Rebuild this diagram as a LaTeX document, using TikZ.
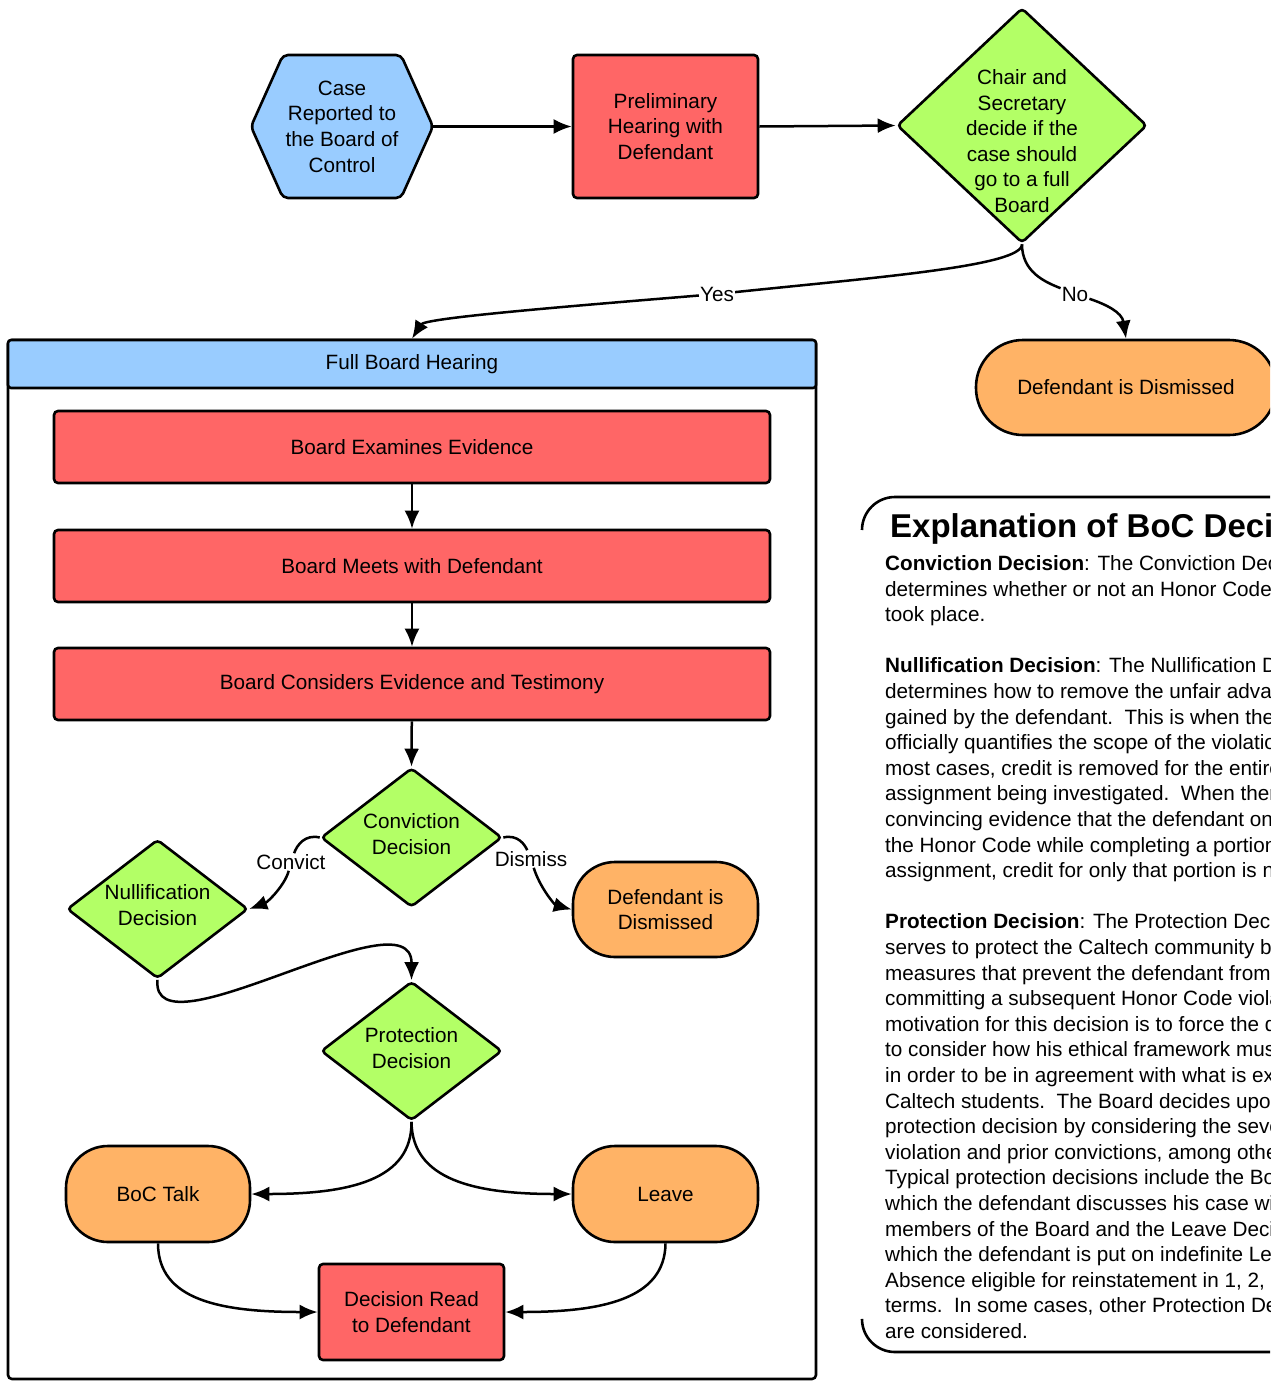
\documentclass[tikz,border=0pt]{standalone}
\usepackage{fontspec}
\setmainfont{Liberation Sans}
\usetikzlibrary{shapes.geometric,arrows.meta}
\definecolor{cblue}{HTML}{99CCFF}
\definecolor{cred}{HTML}{FF6666}
\definecolor{cgreen}{HTML}{B3FF66}
\definecolor{corange}{HTML}{FFB366}
\begin{document}
\begin{tikzpicture}[x=1pt,y=-1pt,
  every node/.style={font=\fontsize{20.7}{25.6}\selectfont, inner sep=0pt},
  box/.style={draw, line width=2.6pt, rounded corners=4pt, fill=cred, align=center},
  term/.style={draw, line width=2.6pt, fill=corange, align=center},
  dec/.style={draw, diamond, line width=2.6pt, fill=cgreen, rounded corners=4pt},
  txt/.style={align=center},
  conn/.style={line width=2.5pt, -{Latex[length=18pt,width=15pt]}},
  plain/.style={line width=2.5pt},
  lbl/.style={fill=white, inner sep=1pt},
  expl/.style={anchor=base west},
  bracket/.style={line width=2.6pt, rounded corners=33pt}]
\useasboundingbox (0,0) rectangle (1270,1382);
\clip (0,0) rectangle (1270,1382);

% top row
\draw[line width=2.6pt, fill=cblue, rounded corners=5pt, line join=round]
  (251,126.5) -- (283,55) -- (401,55) -- (433,126.5) -- (401,198) -- (283,198) -- cycle;
\node[txt, minimum width=182pt, minimum height=143pt] (case) at (342,126.5) {Case\\Reported to\\the Board of\\Control};
\node[box, minimum width=185pt, minimum height=143pt] (prel) at (665.5,126.5) {Preliminary\\Hearing with\\Defendant};
\node[dec, minimum width=250pt, minimum height=235pt] (chair) at (1022,125.5) {};
\node[txt] (chairtxt) at (1022,141) {Chair and\\Secretary\\decide if the\\case should\\go to a full\\Board};
\node[term, rounded corners=47pt, minimum width=300pt, minimum height=95pt] (dis1) at (1126,387.5) {Defendant is Dismissed};

% container
\draw[line width=2.6pt, rounded corners=4pt] (8,340) rectangle (816,1379);
\node[draw, line width=2.6pt, fill=cblue, rounded corners=3pt, minimum width=808pt, minimum height=48pt] (fbh) at (412,364) {Full Board Hearing};

\node[box, minimum width=716pt, minimum height=72pt] (exam) at (412,447) {Board Examines Evidence};
\node[box, minimum width=716pt, minimum height=72pt] (meet) at (412,566) {Board Meets with Defendant};
\node[box, minimum width=716pt, minimum height=72pt] (cons) at (412,684) {Board Considers Evidence and Testimony};

\node[dec, minimum width=181pt, minimum height=139pt] (conv) at (411.5,837.5) {};
\node[txt] (convtxt) at (411.5,834) {Conviction\\Decision};
\node[dec, minimum width=181pt, minimum height=139pt] (nul) at (157.5,909) {};
\node[txt] (nultxt) at (157.5,905) {Nullification\\Decision};
\node[dec, minimum width=181pt, minimum height=139pt] (prot) at (411.5,1051) {};
\node[txt] (prottxt) at (411.5,1048) {Protection\\Decision};
\node[term, rounded corners=42pt, minimum width=185pt, minimum height=95pt] (dis2) at (665.5,909.5) {Defendant is\\Dismissed};
\node[term, rounded corners=42pt, minimum width=184pt, minimum height=96pt] (boc) at (158,1194) {BoC Talk};
\node[term, rounded corners=42pt, minimum width=185pt, minimum height=96pt] (leave) at (665.5,1194) {Leave};
\node[box, minimum width=185pt, minimum height=96pt] (dread) at (411.5,1312) {Decision Read\\to Defendant};

% connectors
\draw[conn] (case.east) -- (prel.west);
\draw[conn] (prel.east) -- (chair.west);
\node[lbl] (yes) at (717,294) {Yes};
\draw[plain] (chair.south) .. controls (1022,266) and (880,277) .. (yes);
\draw[conn] (yes) .. controls (560,307) and (425,318) .. (fbh.north);
\node[lbl] (no) at (1075,294) {No};
\draw[plain] (chair.south) .. controls (1022,272) and (1045,282) .. (no);
\draw[conn] (no) .. controls (1105,304) and (1122,312) .. (dis1.north);
\draw[conn] (exam) -- (meet);
\draw[conn] (meet) -- (cons);
\draw[conn] (cons) -- (conv.north);
\node[lbl] (convict) at (291,862) {Convict};
\draw[plain] (conv.west) .. controls (305,834) and (297,845) .. (convict);
\draw[conn] (convict) .. controls (285,885) and (268,902) .. (nul.east);
\node[lbl] (dismiss) at (531,859) {Dismiss};
\draw[plain] (conv.east) .. controls (518,834) and (525,845) .. (dismiss);
\draw[conn] (dismiss) .. controls (540,888) and (555,905) .. (dis2.west);
\draw[conn] (nul.south) .. controls (150,1060) and (412,890) .. (prot.north);
\draw[conn] (prot.south) .. controls (412,1180) and (350,1194) .. (boc.east);
\draw[conn] (prot.south) .. controls (412,1180) and (475,1194) .. (leave.west);
\draw[conn] (boc.south) .. controls (158,1300) and (220,1312) .. (dread.west);
\draw[conn] (leave.south) .. controls (665,1300) and (600,1312) .. (dread.east);

% explanation
\draw[bracket] (862,530) |- (1300,497);
\draw[bracket] (862,1320) |- (1300,1352);
\node[expl, font=\fontsize{33}{38}\selectfont\bfseries] (etitle) at (890,537) {Explanation of BoC Decisions};
\node[expl] (e1) at (885,570) {\textbf{Conviction Decision}: The Conviction Decision};
\node[expl] (e2) at (885,596) {determines whether or not an Honor Code};
\node[expl] (e3) at (885,621) {took place.};
\node[expl] (e4) at (885,672) {\textbf{Nullification Decision}: The Nullification Decision};
\node[expl] (e5) at (885,698) {determines how to remove the unfair advantage};
\node[expl] (e6) at (885,724) {gained by the defendant.\ \ This is when the};
\node[expl] (e7) at (885,749) {officially quantifies the scope of the violation.};
\node[expl] (e8) at (885,775) {most cases, credit is removed for the entire};
\node[expl] (e9) at (885,800) {assignment being investigated.\ \ When there};
\node[expl] (e10) at (885,826) {convincing evidence that the defendant only};
\node[expl] (e11) at (885,852) {the Honor Code while completing a portion};
\node[expl] (e12) at (885,877) {assignment, credit for only that portion is nullified.};
\node[expl] (e13) at (885,928) {\textbf{Protection Decision}: The Protection Decision};
\node[expl] (e14) at (885,954) {serves to protect the Caltech community by};
\node[expl] (e15) at (885,980) {measures that prevent the defendant from};
\node[expl] (e16) at (885,1005) {committing a subsequent Honor Code violation.};
\node[expl] (e17) at (885,1031) {motivation for this decision is to force the defendant};
\node[expl] (e18) at (885,1056) {to consider how his ethical framework must};
\node[expl] (e19) at (885,1082) {in order to be in agreement with what is expected};
\node[expl] (e20) at (885,1108) {Caltech students.\ \ The Board decides upon};
\node[expl] (e21) at (885,1133) {protection decision by considering the severity};
\node[expl] (e22) at (885,1159) {violation and prior convictions, among other};
\node[expl] (e23) at (885,1184) {Typical protection decisions include the BoC};
\node[expl] (e24) at (885,1210) {which the defendant discusses his case with};
\node[expl] (e25) at (885,1236) {members of the Board and the Leave Decision};
\node[expl] (e26) at (885,1261) {which the defendant is put on indefinite Leave};
\node[expl] (e27) at (885,1287) {Absence eligible for reinstatement in 1, 2,};
\node[expl] (e28) at (885,1312) {terms.\ \ In some cases, other Protection Decisions};
\node[expl] (e29) at (885,1338) {are considered.};
\end{tikzpicture}
\end{document}
